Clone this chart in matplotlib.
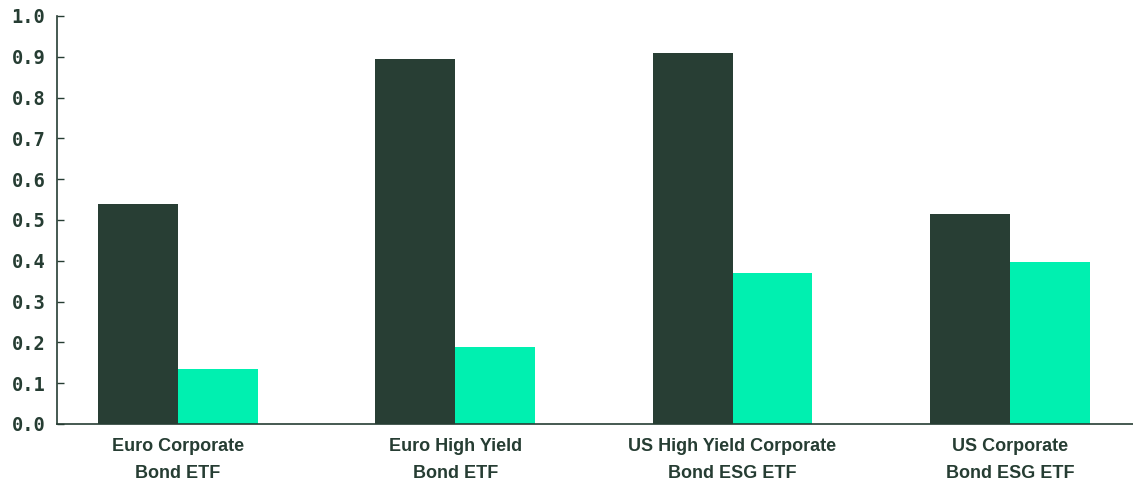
import matplotlib
matplotlib.use("Agg")
import matplotlib.pyplot as plt
import numpy as np

categories = ["Euro Corporate\nBond ETF", "Euro High Yield\nBond ETF",
              "US High Yield Corporate\nBond ESG ETF", "US Corporate\nBond ESG ETF"]
series_dark = [0.539, 0.895, 0.909, 0.515]
series_light = [0.135, 0.189, 0.370, 0.397]
yticks = [0.0, 0.1, 0.2, 0.3, 0.4, 0.5, 0.6, 0.7, 0.8, 0.9, 1.0]

DARK = "#283e34"
LIGHT = "#00f0b0"
TXT = "#263d33"

fig = plt.figure(figsize=(11.33, 4.83), dpi=100)
ax = fig.add_axes([0.0503, 0.1222, 0.9497, 0.8447])

x = np.arange(len(categories))
w = 0.288
ax.bar(x - w / 2, series_dark, width=w, color=DARK, linewidth=0)
ax.bar(x + w / 2, series_light, width=w, color=LIGHT, linewidth=0)

ax.set_xlim(-0.436, 3.444)
ax.set_ylim(0, 1.0)
ax.set_yticks(yticks)
ax.set_yticklabels([f"{v:.1f}" for v in yticks], family="DejaVu Sans Mono",
                   fontweight="bold", fontsize=13.5, color=TXT)
ax.set_xticks(x)
ax.set_xticklabels(categories, family="Liberation Sans", fontweight="bold",
                   fontsize=13, color=TXT, linespacing=1.75)

for s in ["top", "right"]:
    ax.spines[s].set_visible(False)
for s in ["left", "bottom"]:
    ax.spines[s].set_color(TXT)
    ax.spines[s].set_linewidth(1.2)
ax.tick_params(axis="y", direction="in", length=5, width=1, color=TXT, pad=8.5)
ax.tick_params(axis="x", length=0, pad=10)

fig.savefig("out.png", dpi=100)
